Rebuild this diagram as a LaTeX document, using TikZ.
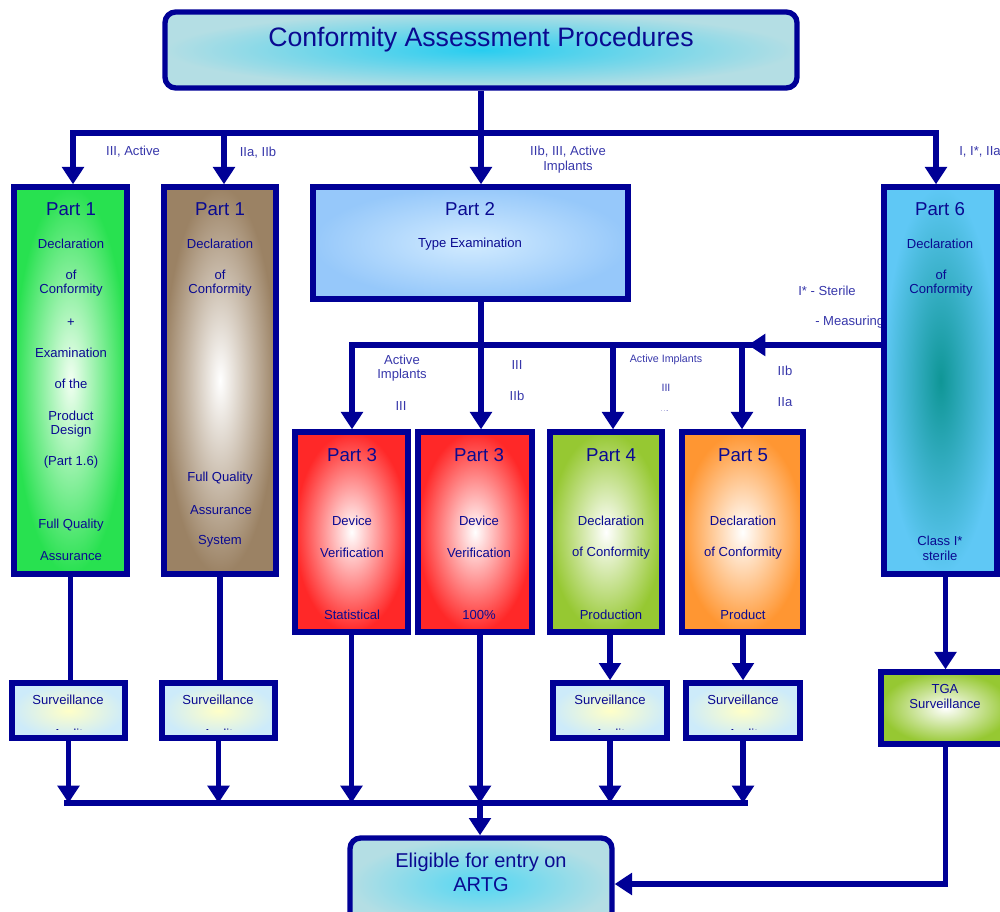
\documentclass[tikz,border=0pt]{standalone}
\usepackage{fontspec}
\setmainfont{Liberation Sans}
\usetikzlibrary{arrows.meta}
\pgfdeclarelayer{bg}
\pgfsetlayers{bg,main}
\definecolor{navy}{RGB}{0,0,150}
\definecolor{txt}{RGB}{10,10,145}
\definecolor{lbl}{RGB}{55,55,170}
\definecolor{grn}{RGB}{40,225,80}
\definecolor{brn}{RGB}{155,130,100}
\definecolor{pbo}{RGB}{150,200,250}
\definecolor{pbi}{RGB}{210,235,255}
\definecolor{p6o}{RGB}{95,200,245}
\definecolor{p6i}{RGB}{15,150,150}
\definecolor{rd}{RGB}{255,40,40}
\definecolor{ygr}{RGB}{150,200,50}
\definecolor{org}{RGB}{255,150,50}
\definecolor{svo}{RGB}{205,235,250}
\definecolor{svi}{RGB}{255,255,200}
\definecolor{tio}{RGB}{180,222,228}
\definecolor{tii}{RGB}{40,205,240}
\begin{document}
\begin{tikzpicture}[x=0.75pt,y=-0.75pt,
  sz/.style 2 args={minimum width={#1*0.75pt},minimum height={#2*0.75pt}},
  boxn/.style={draw=navy,line width=4pt,inner sep=0pt},
  ln/.style={draw=navy,line width=3.9pt},
  arr/.style={ln,-{Triangle[width=16pt,length=13pt]}},
  bt/.style={text=txt,inner sep=0pt,font=\fontsize{9.8}{11}\selectfont},
  pt/.style={text=txt,inner sep=0pt,font=\fontsize{14}{16}\selectfont},
  lb/.style={text=lbl,inner sep=0pt,font=\fontsize{9.8}{11}\selectfont},
  lbs/.style={text=lbl,inner sep=0pt,font=\fontsize{8}{9}\selectfont},
  big/.style={text=txt,inner sep=0pt,font=\fontsize{15}{17}\selectfont}
]
\useasboundingbox (0,0) rectangle (1000,912);

% boxes
\node[boxn,sz={632}{76},rounded corners=8pt,inner color=tii,outer color=tio] (title) at (481,50) {};
\node[boxn,sz={113}{387},inner color=green!5,outer color=grn] (p1a) at (70.5,380.5) {};
\node[boxn,sz={112}{387},inner color=white,outer color=brn] (p1b) at (220,380.5) {};
\node[boxn,sz={315}{112},inner color=pbi,outer color=pbo] (p2) at (470.5,243) {};
\node[boxn,sz={113}{387},inner color=p6i,outer color=p6o] (p6) at (940.5,380.5) {};
\node[boxn,sz={113}{200},inner color=white,outer color=rd] (p3a) at (351.5,532) {};
\node[boxn,sz={114}{200},inner color=white,outer color=rd] (p3b) at (475,532) {};
\node[boxn,sz={112}{200},inner color=white,outer color=ygr] (p4) at (606,532) {};
\node[boxn,sz={121}{200},inner color=white,outer color=org] (p5) at (742.5,532) {};
\node[boxn,sz={113}{55},inner color=svi,outer color=svo] (s1) at (68.5,710.5) {};
\node[boxn,sz={113}{55},inner color=svi,outer color=svo] (s2) at (218.5,710.5) {};
\node[boxn,sz={114}{55},inner color=svi,outer color=svo] (s3) at (610,710.5) {};
\node[boxn,sz={114}{55},inner color=svi,outer color=svo] (s4) at (743,710.5) {};
\node[boxn,sz={129}{72},inner color=white,outer color=ygr] (tga) at (945.5,708) {};
\node[boxn,sz={262}{92},rounded corners=8pt,inner color=tii!80!white,outer color=tio] (elig) at (481,884) {};

% box texts
\node[text=txt,inner sep=0pt,font=\fontsize{20}{22}\selectfont] (ttl) at (481,40) {Conformity Assessment Procedures};

\node[pt] (a1) at (71,209) {Part 1};
\node[bt] (a2) at (71,244) {Declaration};
\node[bt] (a3) at (71,275) {of};
\node[bt] (a4) at (71,290) {Conformity};
\node[bt] (a5) at (71,323) {+};
\node[bt] (a6) at (71,353) {Examination};
\node[bt] (a7) at (71,384) {of the};
\node[bt] (a8) at (71,416) {Product};
\node[bt] (a9) at (71,431) {Design};
\node[bt] (a10) at (71,462) {(Part 1.6)};
\node[bt] (a11) at (71,525) {Full Quality};
\node[bt] (a12) at (71,556) {Assurance};

\node[pt] (b1) at (220,209) {Part 1};
\node[bt] (b2) at (220,244) {Declaration};
\node[bt] (b3) at (220,275) {of};
\node[bt] (b4) at (220,290) {Conformity};
\node[bt] (b5) at (220,478) {Full Quality};
\node[bt] (b6) at (221,510) {Assurance};
\node[bt] (b7) at (220,541) {System};

\node[pt] (c1) at (470,209) {Part 2};
\node[bt] (c2) at (470,244) {Type Examination};

\node[pt] (d1) at (940,209) {Part 6};
\node[bt] (d2) at (940,244) {Declaration};
\node[bt] (d3) at (941,275) {of};
\node[bt] (d4) at (941,290) {Conformity};
\node[bt] (d5) at (940,541) {Class I*};
\node[bt] (d6) at (940,556) {sterile};

\node[pt] (e1) at (352,455) {Part 3};
\node[bt] (e2) at (352,521) {Device};
\node[bt] (e3) at (352,553) {Verification};
\node[bt] (e4) at (352,615) {Statistical};

\node[pt] (f1) at (479,455) {Part 3};
\node[bt] (f2) at (479,521) {Device};
\node[bt] (f3) at (479,553) {Verification};
\node[bt] (f4) at (479,615) {100\%};

\node[pt] (g1) at (611,455) {Part 4};
\node[bt] (g2) at (611,521) {Declaration};
\node[bt] (g3) at (611,553) {of Conformity};
\node[bt] (g4) at (611,615) {Production};

\node[pt] (h1) at (743,455) {Part 5};
\node[bt] (h2) at (743,521) {Declaration};
\node[bt] (h3) at (743,553) {of Conformity};
\node[bt] (h4) at (743,615) {Product};

\node[bt] (s1t) at (68,700) {Surveillance};
\node[bt] (s2t) at (218,700) {Surveillance};
\node[bt] (s3t) at (610,700) {Surveillance};
\node[bt] (s4t) at (743,700) {Surveillance};
\begin{scope}
  \clip (0,690) rectangle (820,729);
  \node[bt] (s1a) at (68,734) {Audit};
  \node[bt] (s2a) at (218,734) {Audit};
  \node[bt] (s3a) at (610,734) {Audit};
  \node[bt] (s4a) at (743,734) {Audit};
\end{scope}

\node[bt] (t1) at (945,689) {TGA};
\node[bt] (t2) at (945,704) {Surveillance};

\node[big] (el1) at (481,862) {Eligible for entry on};
\node[big] (el2) at (481,885) {ARTG};

\begin{pgfonlayer}{bg}
% top bus
\coordinate (b1L) at (73,133);
\coordinate (b1b) at (224,133);
\coordinate (b1R) at (936,133);
\draw[ln] (title.south) -- (title.south |- b1L);
\draw[ln,line cap=rect] (b1L) -- (b1R);
\draw[arr] (b1L) -- (b1L |- p1a.north);
\draw[arr] (b1b) -- (b1b |- p1b.north);
\draw[arr] (title.south |- b1L) -- (title.south |- p2.north);
\draw[arr] (b1R) -- (b1R |- p6.north);

% middle bus
\coordinate (b2L) at (352,345);
\coordinate (b2c) at (613,345);
\coordinate (b2d) at (742,345);
\coordinate (b2M) at (765,345);
\coordinate (b2tip) at (748,345);
\draw[ln,line cap=rect] (b2L) -- (b2M);
\draw[arr] (p6.west |- b2L) -- (b2tip);
\draw[arr] (b2L) -- (b2L |- p3a.north);
\draw[arr] (title.south |- p2.south) -- (title.south |- p3b.north);
\draw[arr] (b2c) -- (b2c |- p4.north);
\draw[arr] (b2d) -- (b2d |- p5.north);

% bottom bus
\coordinate (b3L) at (67,803);
\coordinate (b3c) at (480,803);
\coordinate (b3R) at (745,803);
\draw[ln,line cap=rect] (b3L) -- (b3R);
\draw[ln] (p1a.south) -- (p1a.south |- s1.north);
\draw[ln] (p1b.south) -- (p1b.south |- s2.north);
\draw[arr] (s1.south) -- (s1.south |- b3L);
\draw[arr] (s2.south) -- (s2.south |- b3L);
\draw[arr] (p3a.south) -- (p3a.south |- b3L);
\draw[arr] (b3c |- p3b.south) -- (b3c);
\draw[arr] (s3.north |- p4.south) -- (s3.north);
\draw[arr] (s3.south) -- (s3.south |- b3L);
\draw[arr] (s4.north |- p5.south) -- (s4.north);
\draw[arr] (s4.south) -- (s4.south |- b3L);
\draw[arr] (b3c) -- (b3c |- elig.north);
\draw[arr] (tga.north |- p6.south) -- (tga.north);
\draw[arr] (tga.south) |- (elig.east);

% labels
\node[lb] (l1) at (133,152) {III, Active};
\node[lb] (l2) at (258,153) {IIa, IIb};
\node[lb] (l3) at (568,152) {IIb, III, Active};
\node[lb] (l4) at (568,167) {Implants};
\node[lb,anchor=west] (l5) at (959,152) {I, I*, IIa};
\node[lb] (l6) at (827,291) {I* - Sterile};
\node[lb,anchor=west] (l7) at (815,322) {- Measuring};
\node[lb] (l8) at (402,360) {Active};
\node[lb] (l9) at (402,375) {Implants};
\node[lb] (l10) at (401,406) {III};
\node[lb] (l11) at (517,365) {III};
\node[lb] (l12) at (517,396) {IIb};
\node[lbs] (l13) at (666,360) {Active Implants};
\node[lbs] (l14) at (666,388) {III};
\node[lb] (l16) at (785,371) {IIb};
\begin{scope}
  \clip (600,395) rectangle (720,411);
  \node[lbs] (l15) at (666,415) {IIb};
\end{scope}
\begin{scope}
  \clip (760,390) rectangle (810,406);
  \node[lb] (l17) at (785,402) {IIa};
\end{scope}
\end{pgfonlayer}
\end{tikzpicture}
\end{document}
